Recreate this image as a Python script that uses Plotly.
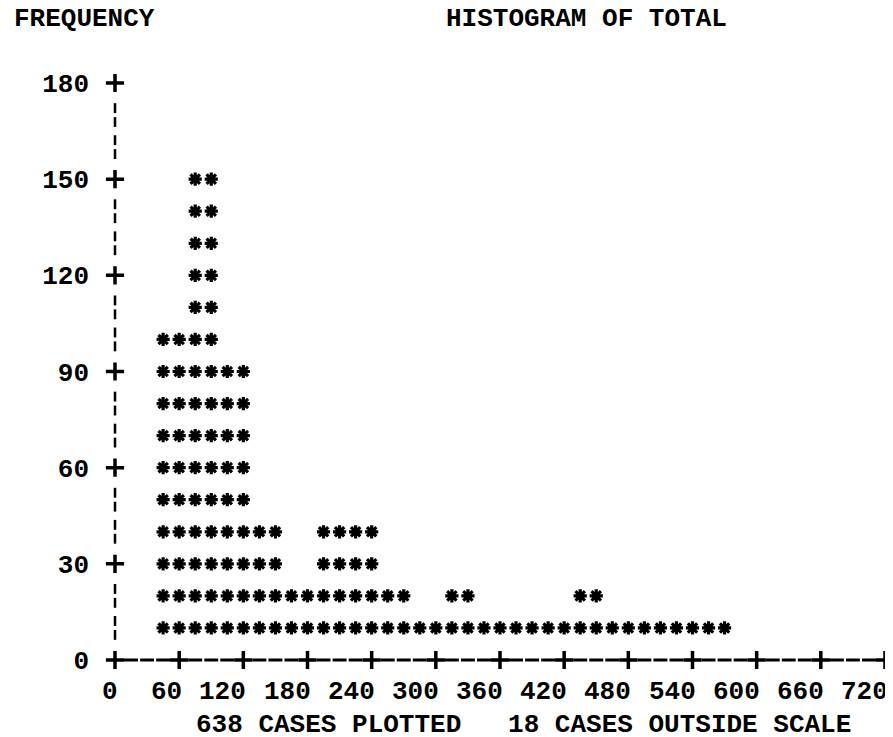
import plotly.graph_objects as go

# ---- data ----
BIN_MIDPOINTS = [52.5, 82.5, 112.5, 142.5, 172.5, 202.5, 232.5, 262.5, 292.5,
                 322.5, 352.5, 382.5, 412.5, 442.5, 472.5, 502.5, 532.5, 562.5]
FREQUENCIES = [100, 150, 90, 40, 20, 40, 40, 20, 10,
               20, 10, 10, 10, 20, 10, 10, 10, 10]
X_TICKS = [0, 60, 120, 180, 240, 300, 360, 420, 480, 540, 600, 660, 720]
X_TICK_LABELS = ["0", "60", "120", "180", "240", "300", "360", "420", "480",
                 "540", "600", "660", "720"]
Y_TICKS = [0, 30, 60, 90, 120, 150, 180]
Y_TICK_LABELS = ["0", "30", "60", "90", "120", "150", "180"]
TITLE = "HISTOGRAM OF TOTAL"
Y_TITLE = "FREQUENCY"
FOOTER = "638 CASES PLOTTED   18 CASES OUTSIDE SCALE"

# printout grid: one character = 15 x-units, one line = 10 frequency units
CHAR_UNITS = 15
ROW_UNITS = 10
Y_TOP = 190

FONT = dict(family="Liberation Mono", size=26, color="black", weight="bold")

# asterisk columns (two characters per bin)
star_x, star_y = [], []
for mid, f in zip(BIN_MIDPOINTS, FREQUENCIES):
    for r in range(ROW_UNITS, f + 1, ROW_UNITS):
        star_x += [mid - CHAR_UNITS / 2, mid + CHAR_UNITS / 2]
        star_y += [r, r]

# axis characters
dash_x = [v for v in range(CHAR_UNITS, X_TICKS[-1], CHAR_UNITS) if v not in X_TICKS]
bar_y = [v for v in range(ROW_UNITS, Y_TOP + 1, ROW_UNITS) if v not in Y_TICKS]
plus_x = X_TICKS + [0] * (len(Y_TICKS) - 1)
plus_y = [0] * len(X_TICKS) + Y_TICKS[1:]

fig = go.Figure()
fig.add_trace(go.Scatter(
    x=dash_x, y=[0] * len(dash_x), mode="markers", cliponaxis=False, hoverinfo="skip",
    marker=dict(symbol="line-ew", size=10, line=dict(width=3, color="black"))))
fig.add_trace(go.Scatter(
    x=[0] * len(bar_y), y=bar_y, mode="markers", cliponaxis=False, hoverinfo="skip",
    marker=dict(symbol="line-ns", size=17, line=dict(width=2.5, color="black"))))
fig.add_trace(go.Scatter(
    x=[0] * len(bar_y), y=bar_y, mode="markers", cliponaxis=False, hoverinfo="skip",
    marker=dict(symbol="line-ew", size=7, line=dict(width=4, color="white"))))
fig.add_trace(go.Scatter(
    x=plus_x, y=plus_y, mode="markers", cliponaxis=False, hoverinfo="skip",
    marker=dict(symbol="cross-thin", size=13, line=dict(width=3.5, color="black"))))
fig.add_trace(go.Scatter(
    x=star_x, y=star_y, mode="markers", cliponaxis=False, hoverinfo="skip",
    marker=dict(symbol="asterisk", size=11, line=dict(width=3.2, color="black"))))

annotations = []
for v, lab in zip(X_TICKS, X_TICK_LABELS):
    annotations.append(dict(x=v, y=-0.055, xref="x", yref="paper", text=lab,
                            xanchor="right", yanchor="middle", xshift=5,
                            showarrow=False, font=FONT))
annotations.append(dict(x=-0.134, y=1.111, xref="paper", yref="paper", text=Y_TITLE,
                        xanchor="left", yanchor="middle", showarrow=False, font=FONT))
annotations.append(dict(x=0.427, y=1.111, xref="paper", yref="paper", text=TITLE,
                        xanchor="left", yanchor="middle", showarrow=False, font=FONT))
annotations.append(dict(x=0.531, y=-0.113, xref="paper", yref="paper",
                        text=FOOTER.replace(" ", "\u00a0"),
                        xanchor="center", yanchor="middle", showarrow=False, font=FONT))

# the page keeps an 8px body margin, so the figure is sized to end at the window edge
fig.update_layout(
    width=885, height=729,
    margin=dict(l=107, r=8, t=75, b=77),
    paper_bgcolor="white", plot_bgcolor="white",
    showlegend=False, hovermode=False,
    annotations=annotations,
    xaxis=dict(range=[0, X_TICKS[-1]], showgrid=False, zeroline=False,
               showline=False, showticklabels=False, ticks=""),
    yaxis=dict(range=[0, Y_TICKS[-1]], showgrid=False, zeroline=False,
               showline=False, ticks="", tickvals=Y_TICKS, ticktext=Y_TICK_LABELS,
               ticklabelstandoff=25, tickfont=FONT),
)

fig.write_html("out.html")
